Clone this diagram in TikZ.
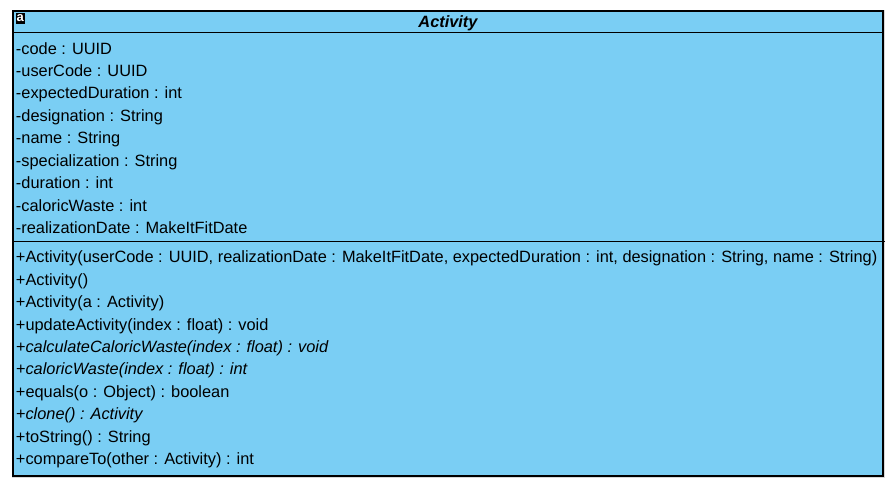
\documentclass[tikz,border=0pt]{standalone}
\usepackage{fontspec}
\setmainfont{Liberation Sans}
\definecolor{classfill}{HTML}{7ACEF4}
\definecolor{shadowgray}{HTML}{D8D8D8}
\tikzset{
  mem/.style={anchor=base west,inner sep=0pt,outer sep=0pt,font=\fontsize{16.35}{18}\selectfont,text=black},
  memit/.style={mem,font=\fontsize{16.35}{18}\selectfont\itshape},
  boxline/.style={draw=black,line width=1.2pt},
  sepline/.style={draw=black,line width=1pt},
}
\begin{document}
\begin{tikzpicture}[x=1pt,y=-1pt]
\useasboundingbox (0,0) rectangle (894,479);
\fill[white] (0,0) rectangle (894,479);
\fill[shadowgray] (11.5,9.5) rectangle (885,478);
\node[boxline,fill=classfill,minimum width=870pt,minimum height=465pt,inner sep=0pt,outer sep=0pt,anchor=north west] (box) at (13,11) {};
\coordinate (s1l) at (13,32); \coordinate (s1r) at (883,32);
\coordinate (s2l) at (13,241); \coordinate (s2r) at (885,241);
\draw[sepline] (s1l) -- (s1r);
\draw[sepline] (s2l) -- (s2r);
\node[fill=black,minimum width=9.5pt,minimum height=10.5pt,inner sep=0pt,anchor=north west] (icon) at (15.5,13) {};
\node[inner sep=0pt,text=white,font=\fontsize{13}{13}\selectfont\bfseries] (icona) at (20.2,18) {a};
\node[inner sep=0pt,anchor=base,font=\fontsize{16.35}{18}\selectfont\bfseries\itshape] (title) at (448,27.5) {Activity};
\node[mem] (a1) at (16,54.4) {-code : UUID};
\node[mem] (a2) at (16,76.4) {-userCode : UUID};
\node[mem] (a3) at (16,98.6) {-expectedDuration : int};
\node[mem] (a4) at (16,121.3) {-designation : String};
\node[mem] (a5) at (16,143.6) {-name : String};
\node[mem] (a6) at (16,166.3) {-specialization : String};
\node[mem] (a7) at (16,188.6) {-duration : int};
\node[mem] (a8) at (16,211.3) {-caloricWaste : int};
\node[mem] (a9) at (16,233.6) {-realizationDate : MakeItFitDate};
\node[mem] (m1) at (16,262.4) {+Activity(userCode : UUID, realizationDate : MakeItFitDate, expectedDuration : int, designation : String, name : String)};
\node[mem] (m2) at (16,285.4) {+Activity()};
\node[mem] (m3) at (16,307.4) {+Activity(a : Activity)};
\node[mem] (m4) at (16,330.4) {+updateActivity(index : float) : void};
\node[memit] (m5) at (16,352.4) {+calculateCaloricWaste(index : float) : void};
\node[memit] (m6) at (16,374.6) {+caloricWaste(index : float) : int};
\node[mem] (m7) at (16,397.4) {+equals(o : Object) : boolean};
\node[memit] (m8) at (16,419.6) {+clone() : Activity};
\node[mem] (m9) at (16,442.4) {+toString() : String};
\node[mem] (m10) at (16,464.6) {+compareTo(other : Activity) : int};
\end{tikzpicture}
\end{document}
